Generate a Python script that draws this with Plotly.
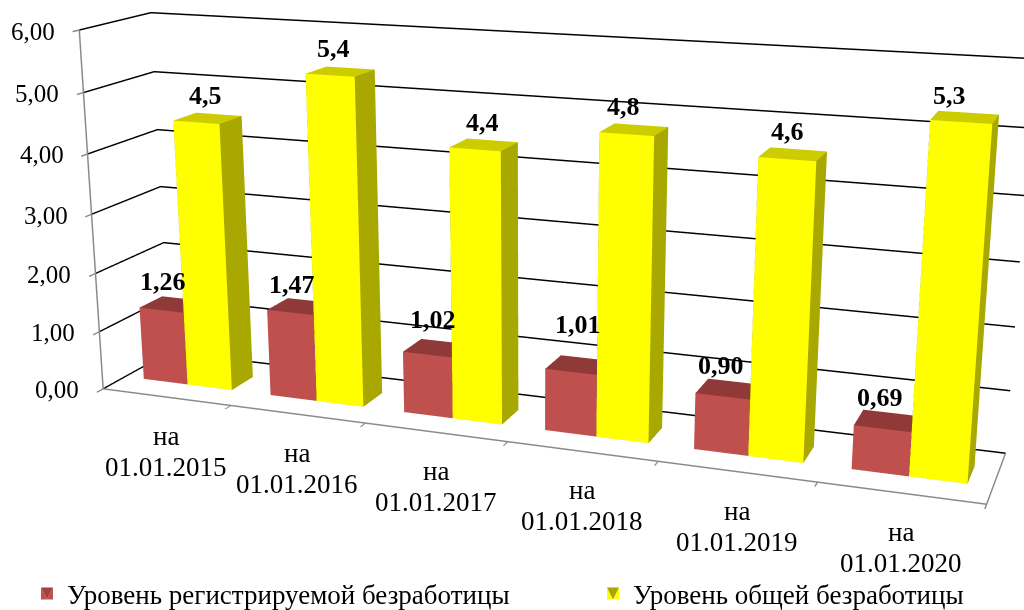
import numpy as np
import plotly.graph_objects as go

dates = ["01.01.2015", "01.01.2016", "01.01.2017", "01.01.2018", "01.01.2019", "01.01.2020"]
registered = [1.26, 1.47, 1.02, 1.01, 0.90, 0.69]
general = [4.5, 5.4, 4.4, 4.8, 4.6, 5.3]
registered_labels = ["1,26", "1,47", "1,02", "1,01", "0,90", "0,69"]
general_labels = ["4,5", "5,4", "4,4", "4,8", "4,6", "5,3"]
value_ticks = [0, 1, 2, 3, 4, 5, 6]
value_tick_labels = ["0,00", "1,00", "2,00", "3,00", "4,00", "5,00", "6,00"]
FONT = "Liberation Serif"

# Hand-placed data labels in the original: pixel nudges relative to each bar top.
registered_dx = [-10, -9, -4, -1, -8, -7]
registered_dy = [6, 5, 12, 23, 7, 6]
general_dx = [-3, -7, -2, -11, -6, -16]
general_dy = [6, 6, 6, 6, 6, 5]

# The Excel original has a much narrower lens than Plotly's fixed 45 degree one, so the
# scene is taller than the window and the page is cropped to the 1024x610 viewport.
SCENE_H = 1584
OFFSET = 487

def bars(values, start, width, front, right, top, name, legend):
    xs, ys, zs, i, j, k, col = [], [], [], [], [], [], []
    y0, y1 = 0.32, 0.66
    for c, v in enumerate(values):
        x0, x1 = c + start, c + start + width
        b = len(xs)
        xs += [x0, x1, x1, x0, x0, x1, x1, x0]
        ys += [y0, y0, y1, y1, y0, y0, y1, y1]
        zs += [0, 0, 0, 0, v, v, v, v]
        quads = [((0, 1, 5), (0, 5, 4), front), ((1, 2, 6), (1, 6, 5), right), ((4, 5, 6), (4, 6, 7), top),
                 ((0, 3, 7), (0, 7, 4), right), ((3, 2, 6), (3, 6, 7), right), ((0, 1, 2), (0, 2, 3), right)]
        for t1, t2, colr in quads:
            for t in (t1, t2):
                i.append(b + t[0]); j.append(b + t[1]); k.append(b + t[2]); col.append(colr)
    return go.Mesh3d(x=xs, y=ys, z=zs, i=i, j=j, k=k, facecolor=col, flatshading=True, name=name, showlegend=True,
                     legend=legend, lighting=dict(ambient=1, diffuse=0, specular=0, fresnel=0, roughness=1),
                     hoverinfo="skip")

fig = go.Figure()
fig.add_trace(bars(registered, 0.15, 0.35, "#C0504D", "#A04340", "#8F3A38", "Уровень регистрируемой безработицы", "legend"))
fig.add_trace(bars(general, 0.50, 0.35, "#FFFF00", "#A8A800", "#CCCC00", "Уровень общей безработицы", "legend2"))

ann = []
for c in range(6):
    ann.append(dict(x=c + 0.5, y=0, z=0, text="на", showarrow=False, yanchor="middle", yshift=-39,
                    font=dict(family=FONT, size=27, color="black")))
    ann.append(dict(x=c + 0.5, y=0, z=0, text=dates[c], showarrow=False, yanchor="middle", yshift=-70,
                    font=dict(family=FONT, size=27, color="black")))
    ann.append(dict(x=c + 0.325, y=0.5, z=registered[c], text="<b>%s</b>" % registered_labels[c], showarrow=False,
                    yanchor="bottom", xshift=registered_dx[c], yshift=registered_dy[c],
                    font=dict(family=FONT, size=26, color="black")))
    ann.append(dict(x=c + 0.675, y=0.5, z=general[c], text="<b>%s</b>" % general_labels[c], showarrow=False,
                    yanchor="bottom", xshift=general_dx[c], yshift=general_dy[c],
                    font=dict(family=FONT, size=26, color="black")))
for v, t in zip(value_ticks, value_tick_labels):
    ann.append(dict(x=0, y=0, z=v, text=t, showarrow=False, xanchor="right", yanchor="middle", xshift=-22, yshift=-1,
                    font=dict(family=FONT, size=25, color="black")))

GREY = "#8a8a8a"
axis_common = dict(showbackground=False, zeroline=False, showspikes=False, title=dict(text=""), showline=True,
                   linecolor=GREY, linewidth=3, showticklabels=False)
legend_y = 1 - (594 + OFFSET) / SCENE_H
legend_style = dict(orientation="h", y=legend_y, xanchor="left", yanchor="middle",
                    font=dict(family=FONT, size=27, color="black"), bgcolor="rgba(0,0,0,0)")
fig.update_layout(
    width=1024, height=SCENE_H, margin=dict(l=0, r=0, t=0, b=0), paper_bgcolor="white",
    legend=dict(x=27 / 1024, **legend_style),
    legend2=dict(x=593 / 1024, **legend_style),
    scene=dict(
        domain=dict(x=[0, 1], y=[0, 1]),
        aspectmode="manual", aspectratio=dict(x=2.4153, y=0.36, z=1.0),
        camera=dict(eye=dict(x=1.6565, y=-4.4916, z=1.2217), center=dict(x=-0.0312, y=-0.0649, z=-0.1686),
                    up=dict(x=-0.0976, y=0.2642, z=0.9595), projection=dict(type="perspective")),
        xaxis=dict(range=[0, 6], tickvals=[0, 1, 2, 3, 4, 5, 6], showgrid=False, ticks="outside",
                   ticklen=6, tickcolor=GREY, tickwidth=3, **axis_common),
        yaxis=dict(range=[0, 1], tickvals=[], showgrid=False, **axis_common),
        zaxis=dict(range=[0, 6], tickvals=value_ticks, showgrid=True, gridcolor="black",
                   gridwidth=3, ticks="outside", ticklen=6, tickcolor=GREY, tickwidth=3, **axis_common),
        annotations=ann,
    ),
)
crop = ("document.documentElement.style.overflow='hidden';document.body.style.overflow='hidden';"
        "document.body.style.margin='0';document.getElementById('{plot_id}').style.marginTop='-%dpx';" % OFFSET)
fig.write_html("out.html", post_script=crop)
